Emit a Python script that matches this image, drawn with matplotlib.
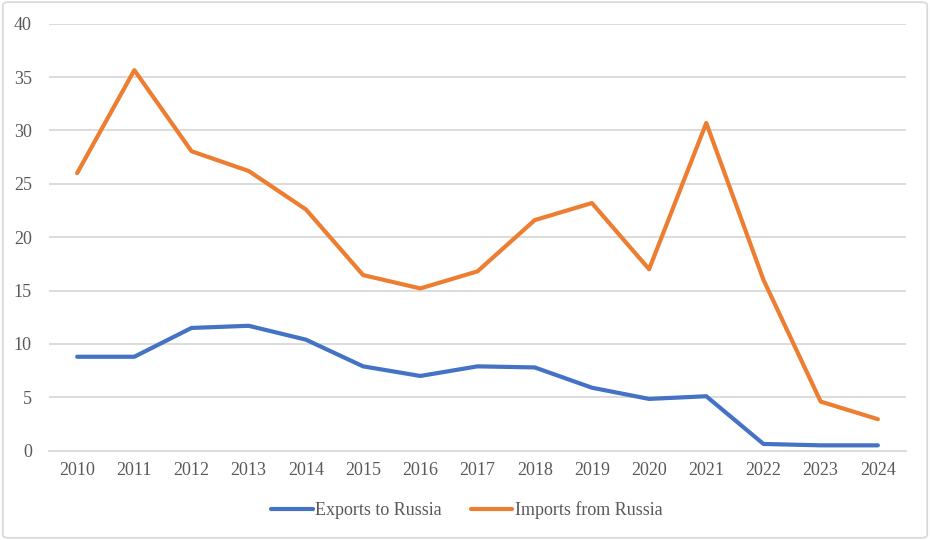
import matplotlib
matplotlib.use("Agg")
import matplotlib.pyplot as plt
from matplotlib.patches import FancyBboxPatch

years = ["2010", "2011", "2012", "2013", "2014", "2015", "2016", "2017",
         "2018", "2019", "2020", "2021", "2022", "2023", "2024"]
exports_to_russia = [8.8, 8.8, 11.5, 11.7, 10.4, 7.9, 7.0, 7.9, 7.8, 5.9, 4.85, 5.1, 0.63, 0.5, 0.5]
imports_from_russia = [26.0, 35.65, 28.05, 26.2, 22.6, 16.45, 15.2, 16.8, 21.6, 23.2, 17.0, 30.7, 16.0, 4.6, 2.95]
y_ticks = [0, 5, 10, 15, 20, 25, 30, 35, 40]

plt.rcParams['font.family'] = ['Liberation Serif', 'DejaVu Serif']
text_color = "#595959"
grid_color = "#D9D9D9"

fig = plt.figure(figsize=(9.3, 5.4), dpi=100)
ax = fig.add_axes([0.0522, 0.1654, 0.9225, 0.7907])

x = list(range(len(years)))
ax.plot(x, exports_to_russia, color="#4472C4", lw=3, solid_capstyle="round",
        solid_joinstyle="round", label="Exports to Russia", zorder=3)
ax.plot(x, imports_from_russia, color="#ED7D31", lw=3, solid_capstyle="round",
        solid_joinstyle="round", label="Imports from Russia", zorder=3)

ax.set_xlim(-0.5, len(years) - 0.5)
ax.set_ylim(0, 40)
ax.set_yticks(y_ticks)
ax.set_xticks(x)
ax.set_xticklabels(years)
ax.yaxis.grid(True, color=grid_color, lw=1.3)
ax.set_axisbelow(True)
for s in ["top", "right", "left"]:
    ax.spines[s].set_visible(False)
ax.spines["bottom"].set_color(grid_color)
ax.spines["bottom"].set_linewidth(1.3)
ax.tick_params(axis="both", length=0, labelsize=13, colors=text_color)
ax.tick_params(axis="y", pad=12)
ax.tick_params(axis="x", pad=8)

leg = fig.legend(loc="center", bbox_to_anchor=(0.502, 0.0556), ncol=2, frameon=False,
                 fontsize=13, handlelength=2.3, handletextpad=0.15, columnspacing=1.6)
for t in leg.get_texts():
    t.set_color(text_color)

border = FancyBboxPatch((0.003, 0.004), 0.994, 0.992, boxstyle="round,pad=0,rounding_size=0.006",
                        transform=fig.transFigure, fill=False, edgecolor="#D9D9D9", lw=1.3)
fig.patches.append(border)

fig.savefig("out.png", dpi=100)
